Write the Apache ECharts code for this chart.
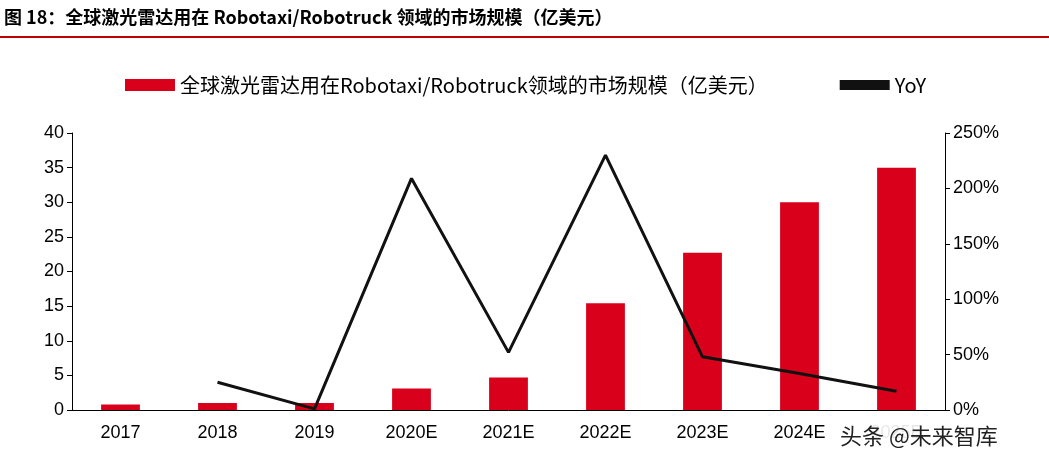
<!DOCTYPE html><html><head><meta charset="utf-8"><script src="https://cdn.jsdelivr.net/npm/echarts@6/dist/echarts.min.js"></script>
<style>body{margin:0}#c{width:1049px;height:470px}</style></head><body><div id="c"></div><script>
const categories=['2017','2018','2019','2020E','2021E','2022E','2023E','2024E','2025E'];
const marketSize=[0.8,1.0,1.0,3.1,4.7,15.4,22.7,30,35];
const yoy=[null,25,1,209,52,230,48,33,17];
const chart=echarts.init(document.getElementById('c'));
const f='"Liberation Sans", Arial, sans-serif';
chart.setOption({
 animation:false,
 graphic:[
  {type:'text',left:4,top:8,style:{text:'图 18：全球激光雷达用在 Robotaxi/Robotruck 领域的市场规模（亿美元）',font:'bold 18px "Noto Sans CJK SC"',fill:'#000'}},
  {type:'line',shape:{x1:0,y1:37,x2:1049,y2:37},style:{stroke:'#c00000',lineWidth:2}},
  {type:'text',left:840,top:425,z:100,style:{text:'头条 @未来智库',font:'22px "Noto Sans CJK SC"',fill:'#222',backgroundColor:'rgba(255,255,255,0.9)'}}
 ],
 legend:{top:70,left:120,itemGap:72,itemWidth:50,itemHeight:12,textStyle:{fontSize:20,fontFamily:'"Noto Sans CJK SC"',color:'#000'},
  data:[{name:'全球激光雷达用在Robotaxi/Robotruck领域的市场规模（亿美元）',icon:'rect'},{name:'YoY',icon:'path://M0,0H10V2H0Z'}]},
 grid:{left:72,right:104,top:133,bottom:60},
 xAxis:{type:'category',data:categories,axisTick:{show:false},axisLine:{lineStyle:{color:'#000'}},axisLabel:{fontSize:18,color:'#000',fontFamily:f,margin:14}},
 yAxis:[{type:'value',min:0,max:40,interval:5,splitLine:{show:false},axisLine:{show:true,lineStyle:{color:'#000'}},axisTick:{show:true,lineStyle:{color:'#000'}},axisLabel:{fontSize:18,color:'#000',fontFamily:f}},
  {type:'value',min:0,max:250,interval:50,splitLine:{show:false},axisLine:{show:true,lineStyle:{color:'#000'}},axisTick:{show:true,lineStyle:{color:'#000'}},axisLabel:{fontSize:18,color:'#000',fontFamily:f,formatter:'{value}%'}}],
 series:[
  {name:'全球激光雷达用在Robotaxi/Robotruck领域的市场规模（亿美元）',type:'bar',data:marketSize,barWidth:'40%',itemStyle:{color:'#d9001b'}},
  {name:'YoY',type:'line',yAxisIndex:1,data:yoy,symbol:'none',lineStyle:{color:'#111',width:3},itemStyle:{color:'#111'}}
 ]
});
</script></body></html>
